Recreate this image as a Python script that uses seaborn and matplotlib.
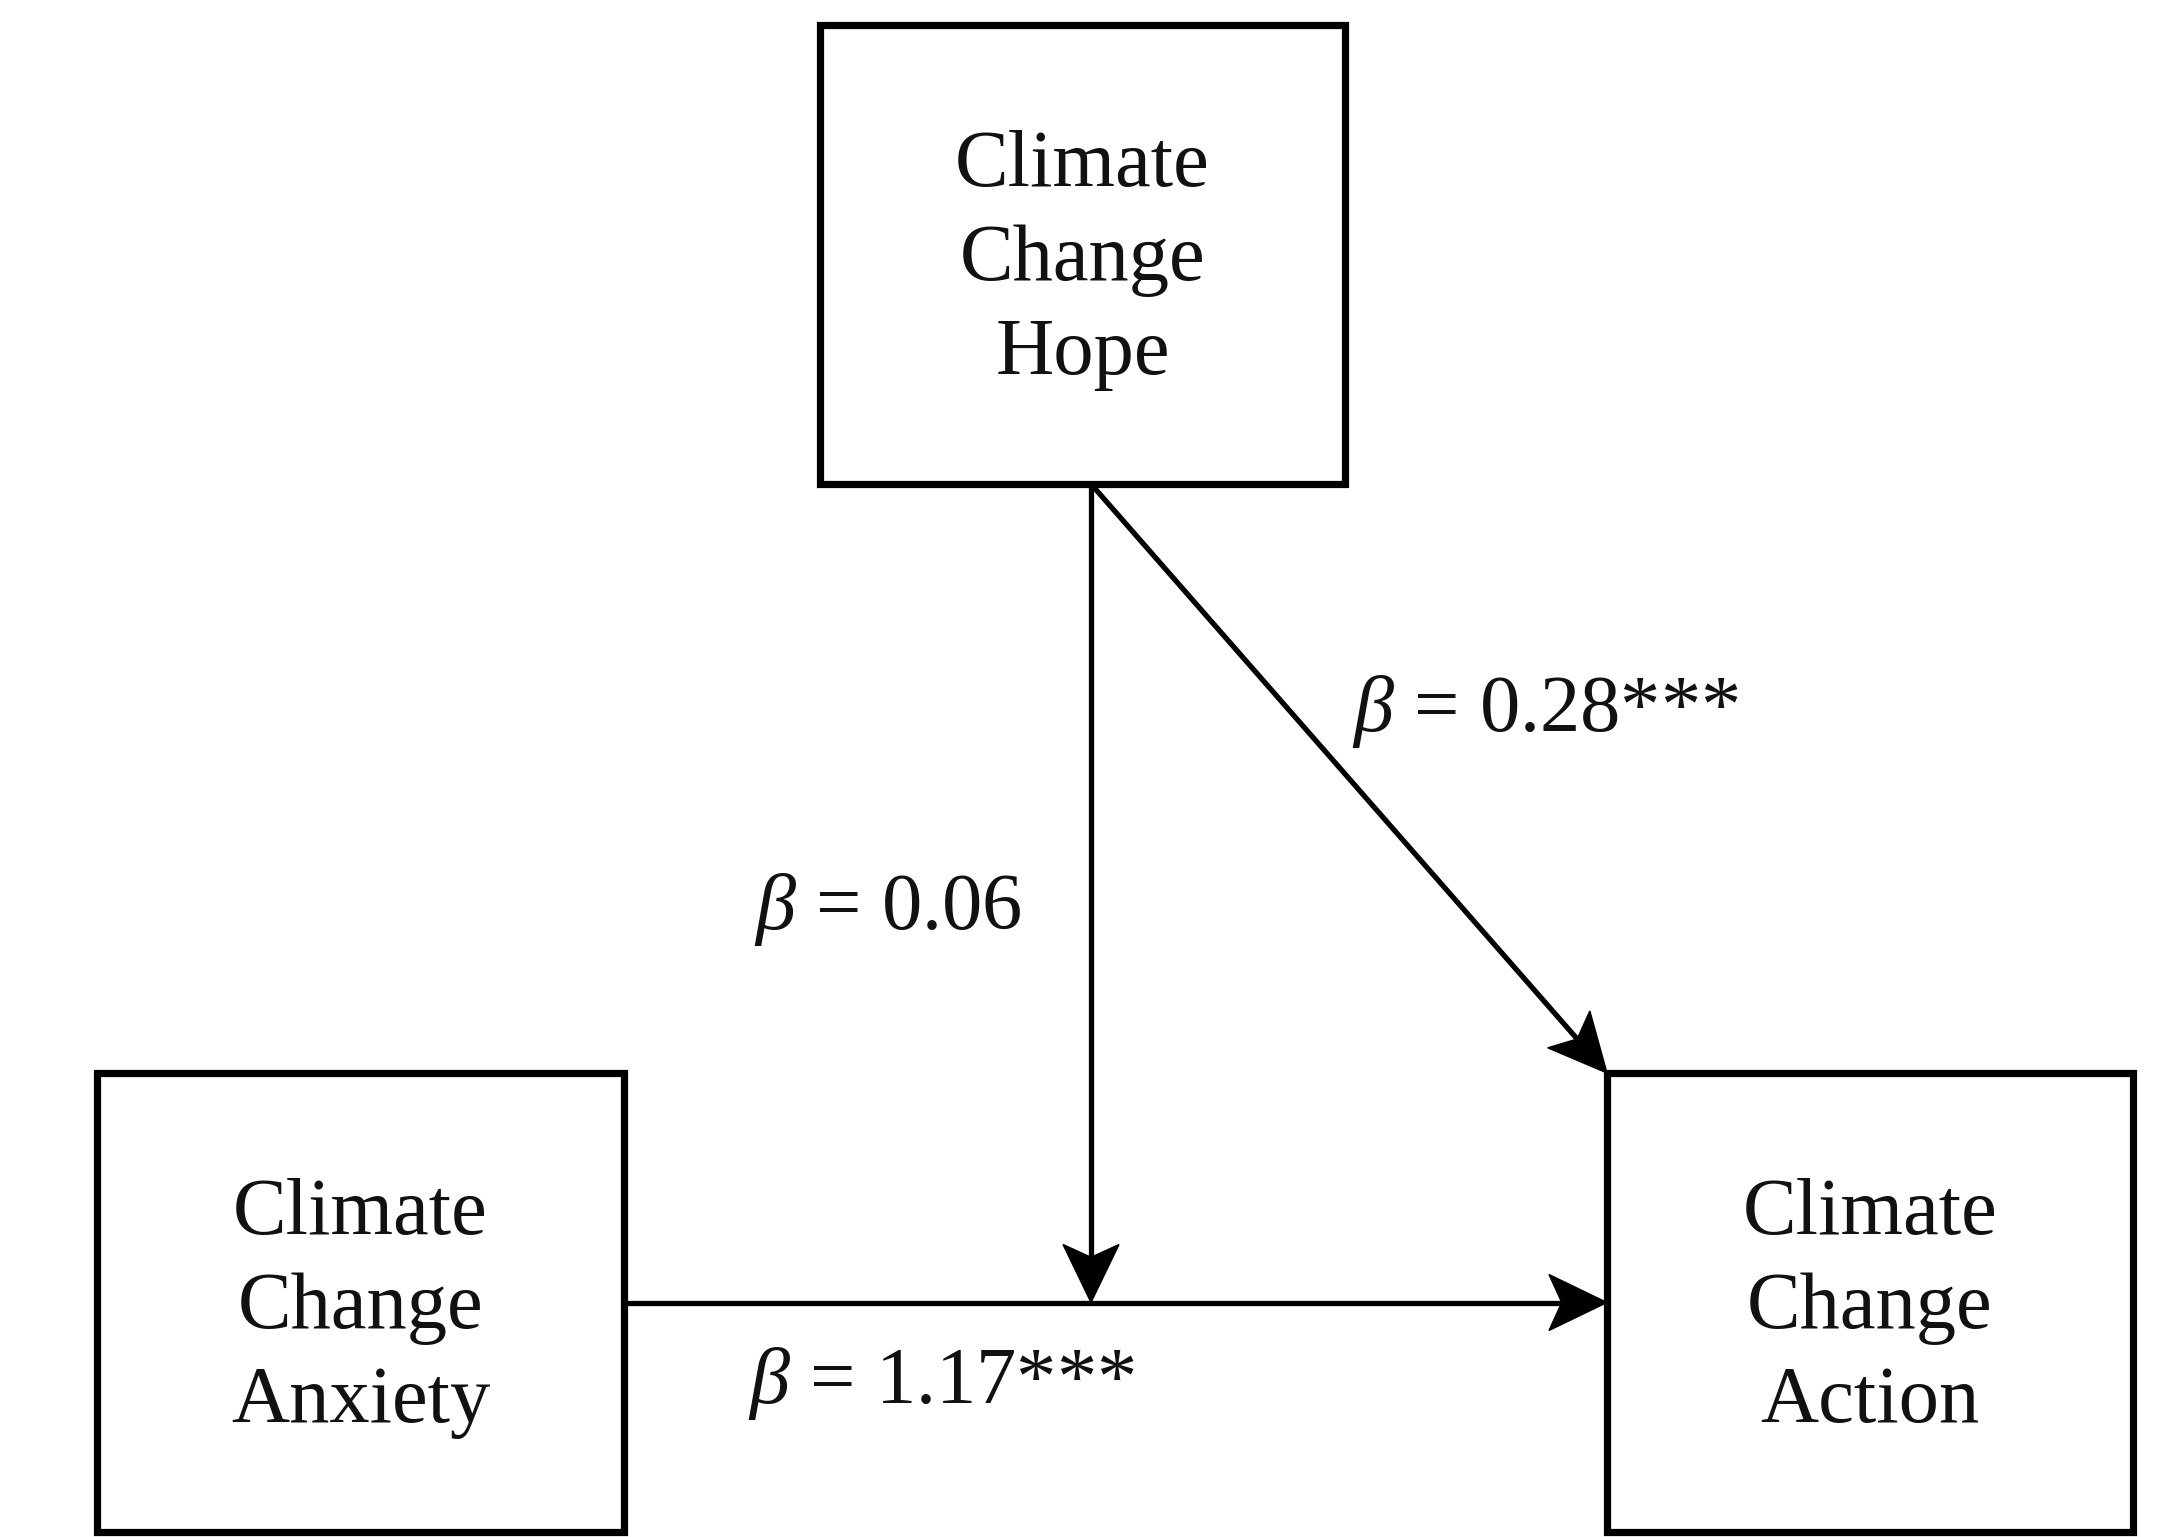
import numpy as np
import matplotlib
matplotlib.use("Agg")
import matplotlib.pyplot as plt
import seaborn as sns
from matplotlib.patches import Rectangle, Polygon

# ---- data ----
node_names = ["hope", "anxiety", "action"]
node_labels = ["Climate\nChange\nHope", "Climate\nChange\nAnxiety", "Climate\nChange\nAction"]
# box geometry in pixel space (x0, y0, x1, y1), y downward
node_x0 = [820, 97, 1607]
node_x1 = [1345, 624, 2133]
node_y0 = [25, 1073, 1073]
node_y1 = [484, 1532, 1532]

path_labels = ["0.28***", "0.06", "1.17***"]
label_x = [1352, 754, 748]
label_y = [712, 910, 1383]

sns.set_theme(style="white")
plt.rcParams["font.family"] = ["Liberation Serif", "DejaVu Serif"]
plt.rcParams["mathtext.fontset"] = "custom"
plt.rcParams["mathtext.rm"] = "Liberation Serif"
plt.rcParams["mathtext.it"] = "Liberation Serif:italic"

W, H = 2168, 1537
dpi = 200
fig = plt.figure(figsize=(W / dpi, H / dpi), dpi=dpi)
ax = fig.add_axes([0, 0, 1, 1])
ax.set_xlim(0, W)
ax.set_ylim(H, 0)
ax.axis("off")

box_lw = 2.6
arrow_lw = 1.9

for lab, x0, x1, y0, y1 in zip(node_labels, node_x0, node_x1, node_y0, node_y1):
    ax.add_patch(Rectangle((x0, y0), x1 - x0, y1 - y0, fill=False,
                           edgecolor="black", linewidth=box_lw, zorder=3))
    ax.text((x0 + x1) / 2, (y0 + y1) / 2 + 6, lab, ha="center", va="center",
            fontsize=29, linespacing=1.37, color="#111111", zorder=4)


def arrow(p0, p1, head_len=58, head_w=56, notch=0.22):
    p0 = np.array(p0, float)
    p1 = np.array(p1, float)
    d = (p1 - p0) / np.linalg.norm(p1 - p0)
    n = np.array([-d[1], d[0]])
    base = p1 - d * head_len
    ax.plot([p0[0], (p1 - d * head_len * 0.6)[0]], [p0[1], (p1 - d * head_len * 0.6)[1]],
            color="black", lw=arrow_lw, solid_capstyle="butt", zorder=2)
    pts = [p1, base + n * head_w / 2, p1 - d * head_len * (1 - notch), base - n * head_w / 2]
    ax.add_patch(Polygon(pts, closed=True, facecolor="black", edgecolor="black",
                         linewidth=0.5, zorder=2))


hope, anx, act = 0, 1, 2
mid_y = (node_y0[anx] + node_y1[anx]) / 2
vx = 1091
# anxiety -> action
arrow((node_x1[anx], mid_y), (node_x0[act], mid_y))
# hope -> moderation point
arrow((vx, node_y1[hope]), (vx, mid_y))
# hope -> action (diagonal)
arrow((vx, node_y1[hope]), (node_x0[act], node_y0[act]))

for t, x, y in zip(path_labels, label_x, label_y):
    ax.text(x, y, r"$\mathit{\beta}$ = " + t, ha="left", va="center",
            fontsize=29, color="#111111")

fig.savefig("out.png", dpi=dpi, facecolor="white")
